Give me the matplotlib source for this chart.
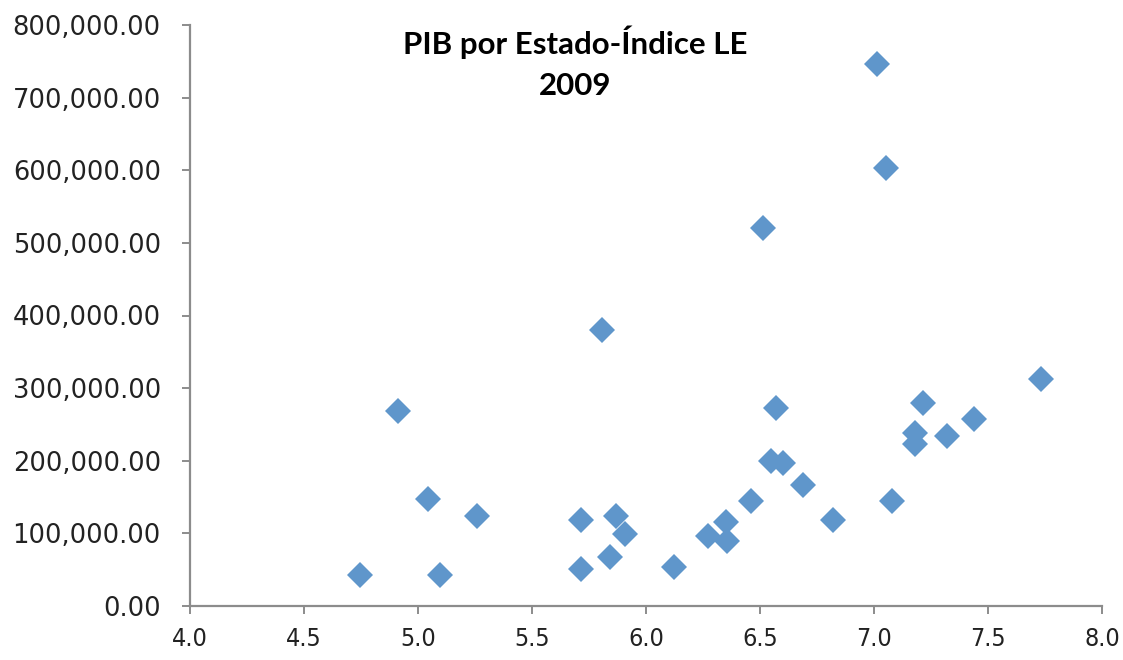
import matplotlib
matplotlib.use("Agg")
import matplotlib.pyplot as plt
from matplotlib.ticker import FuncFormatter, MultipleLocator

# Índice LE (x) and PIB (y) per state, 2009
indice_le = [4.746, 4.914, 5.042, 5.096, 5.257, 5.713, 5.713, 5.808, 5.842, 5.867,
             5.909, 6.123, 6.270, 6.351, 6.357, 6.459, 6.512, 6.548, 6.570, 6.600,
             6.690, 6.819, 7.013, 7.053, 7.078, 7.180, 7.180, 7.215, 7.320, 7.439,
             7.731]
pib = [43000, 269000, 148000, 43000, 124000, 118000, 50500, 380000, 67000, 124000,
       99000, 53500, 97000, 116000, 89500, 145000, 520000, 199000, 272000, 196500,
       166600, 118400, 746000, 603500, 145000, 238000, 223000, 280000, 234000, 258000,
       312600]

title_text = "PIB por Estado-Índice LE\n2009"
x_limits = (4.0, 8.0)
y_limits = (0, 800000)

fig = plt.figure(figsize=(11.23, 6.6), dpi=100)
ax = fig.add_axes([190 / 1123, 54 / 660, (1102 - 190) / 1123, (606 - 25) / 660])

ax.plot(indice_le, pib, linestyle="none", marker="D", markersize=13.6,
        markerfacecolor="#5F96CB", markeredgewidth=0, clip_on=False)

ax.set_xlim(*x_limits)
ax.set_ylim(*y_limits)
ax.xaxis.set_major_locator(MultipleLocator(0.5))
ax.yaxis.set_major_locator(MultipleLocator(100000))
ax.xaxis.set_major_formatter(FuncFormatter(lambda v, p: f"{v:.1f}"))
ax.yaxis.set_major_formatter(FuncFormatter(lambda v, p: f"{v:,.2f}"))

spine_color = "#8C8C8C"
for side in ("top", "right"):
    ax.spines[side].set_visible(False)
for side in ("left", "bottom"):
    ax.spines[side].set_color(spine_color)
    ax.spines[side].set_linewidth(1.6)

ax.tick_params(axis="both", colors=spine_color, width=1.4, length=6, direction="out",
               labelcolor="#222222")
ax.tick_params(axis="y", labelsize=18.5, pad=15)
ax.tick_params(axis="x", labelsize=18, pad=9)
for lbl in ax.get_xticklabels():
    lbl.set_fontstretch("condensed")

ax.text(0.422, 0.935, title_text, transform=ax.transAxes, ha="center", va="center",
        multialignment="center", fontsize=22.5, fontweight="bold",
        family=["Lato", "DejaVu Sans"], linespacing=1.55, color="#000000")

fig.savefig("out.png", dpi=100)
